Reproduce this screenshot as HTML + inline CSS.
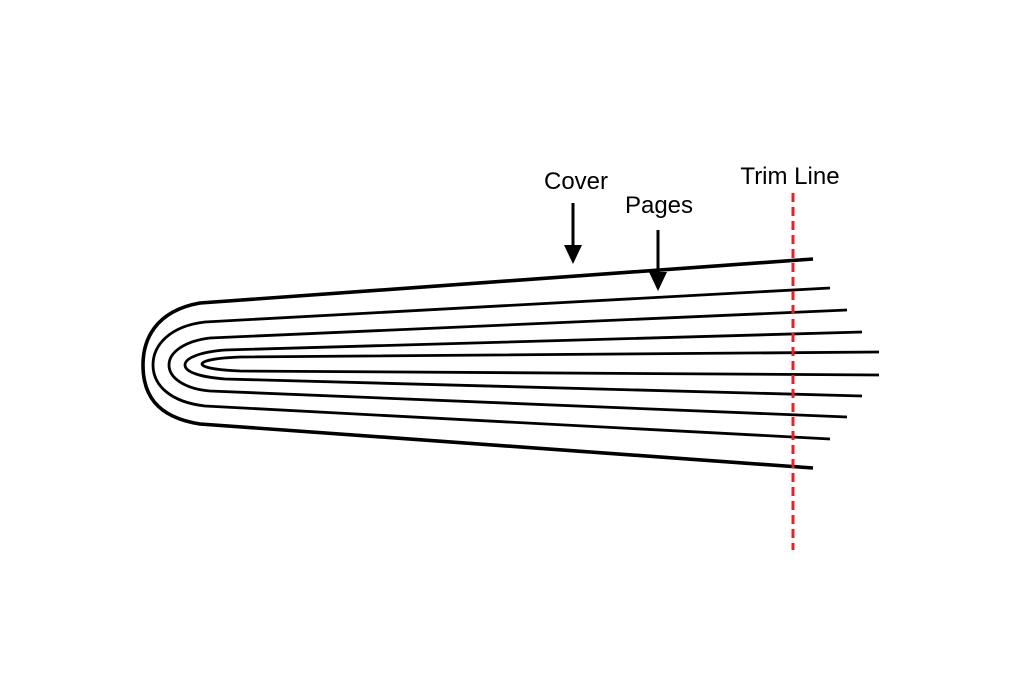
<!DOCTYPE html>
<html><head><style>html,body{margin:0;padding:0;background:#fff;}svg{display:block}</style></head>
<body>
<svg width="1024" height="683" viewBox="0 0 1024 683" xmlns="http://www.w3.org/2000/svg">
<rect width="1024" height="683" fill="#fff"/>
<g fill="none" stroke="#000" stroke-linecap="butt">
<path stroke-width="3.6" d="M813,259 L200,303 C155,311 143,340 143,365 C143,393 155,417 200,424 L813,468"/>
<path stroke-width="2.8" d="M830,288 L205,322 C170,326 153,345 153,365 C153,385 170,402 205,406 L830,439"/>
<path stroke-width="2.8" d="M847,310 L210,338 C185,341 169,352 169,365 C169,378 185,389 210,391 L847,417"/>
<path stroke-width="2.8" d="M862,332 L225,350 C200,352 185,358 185,365 C185,372 200,377 225,379 L862,396"/>
<path stroke-width="2.8" d="M879,352 L240,357 C215,358 202,361 202,364 C202,367 215,370 240,371 L879,375"/>
<line x1="573" y1="203" x2="573" y2="250" stroke-width="3"/>
<line x1="658" y1="230" x2="658" y2="276" stroke-width="3"/>
</g>
<polygon points="564,245 582,245 573,264" fill="#000"/>
<polygon points="649,272 667,272 658,291" fill="#000"/>
<line x1="793" y1="193" x2="793" y2="550" stroke="#e8202a" stroke-width="3" stroke-dasharray="9,5"/>
<g font-family="Liberation Sans, sans-serif" font-size="24" fill="#000" text-anchor="middle">
<text x="576" y="189">Cover</text>
<text x="659" y="213">Pages</text>
<text x="790" y="184">Trim Line</text>
</g>
</svg>
</body></html>
